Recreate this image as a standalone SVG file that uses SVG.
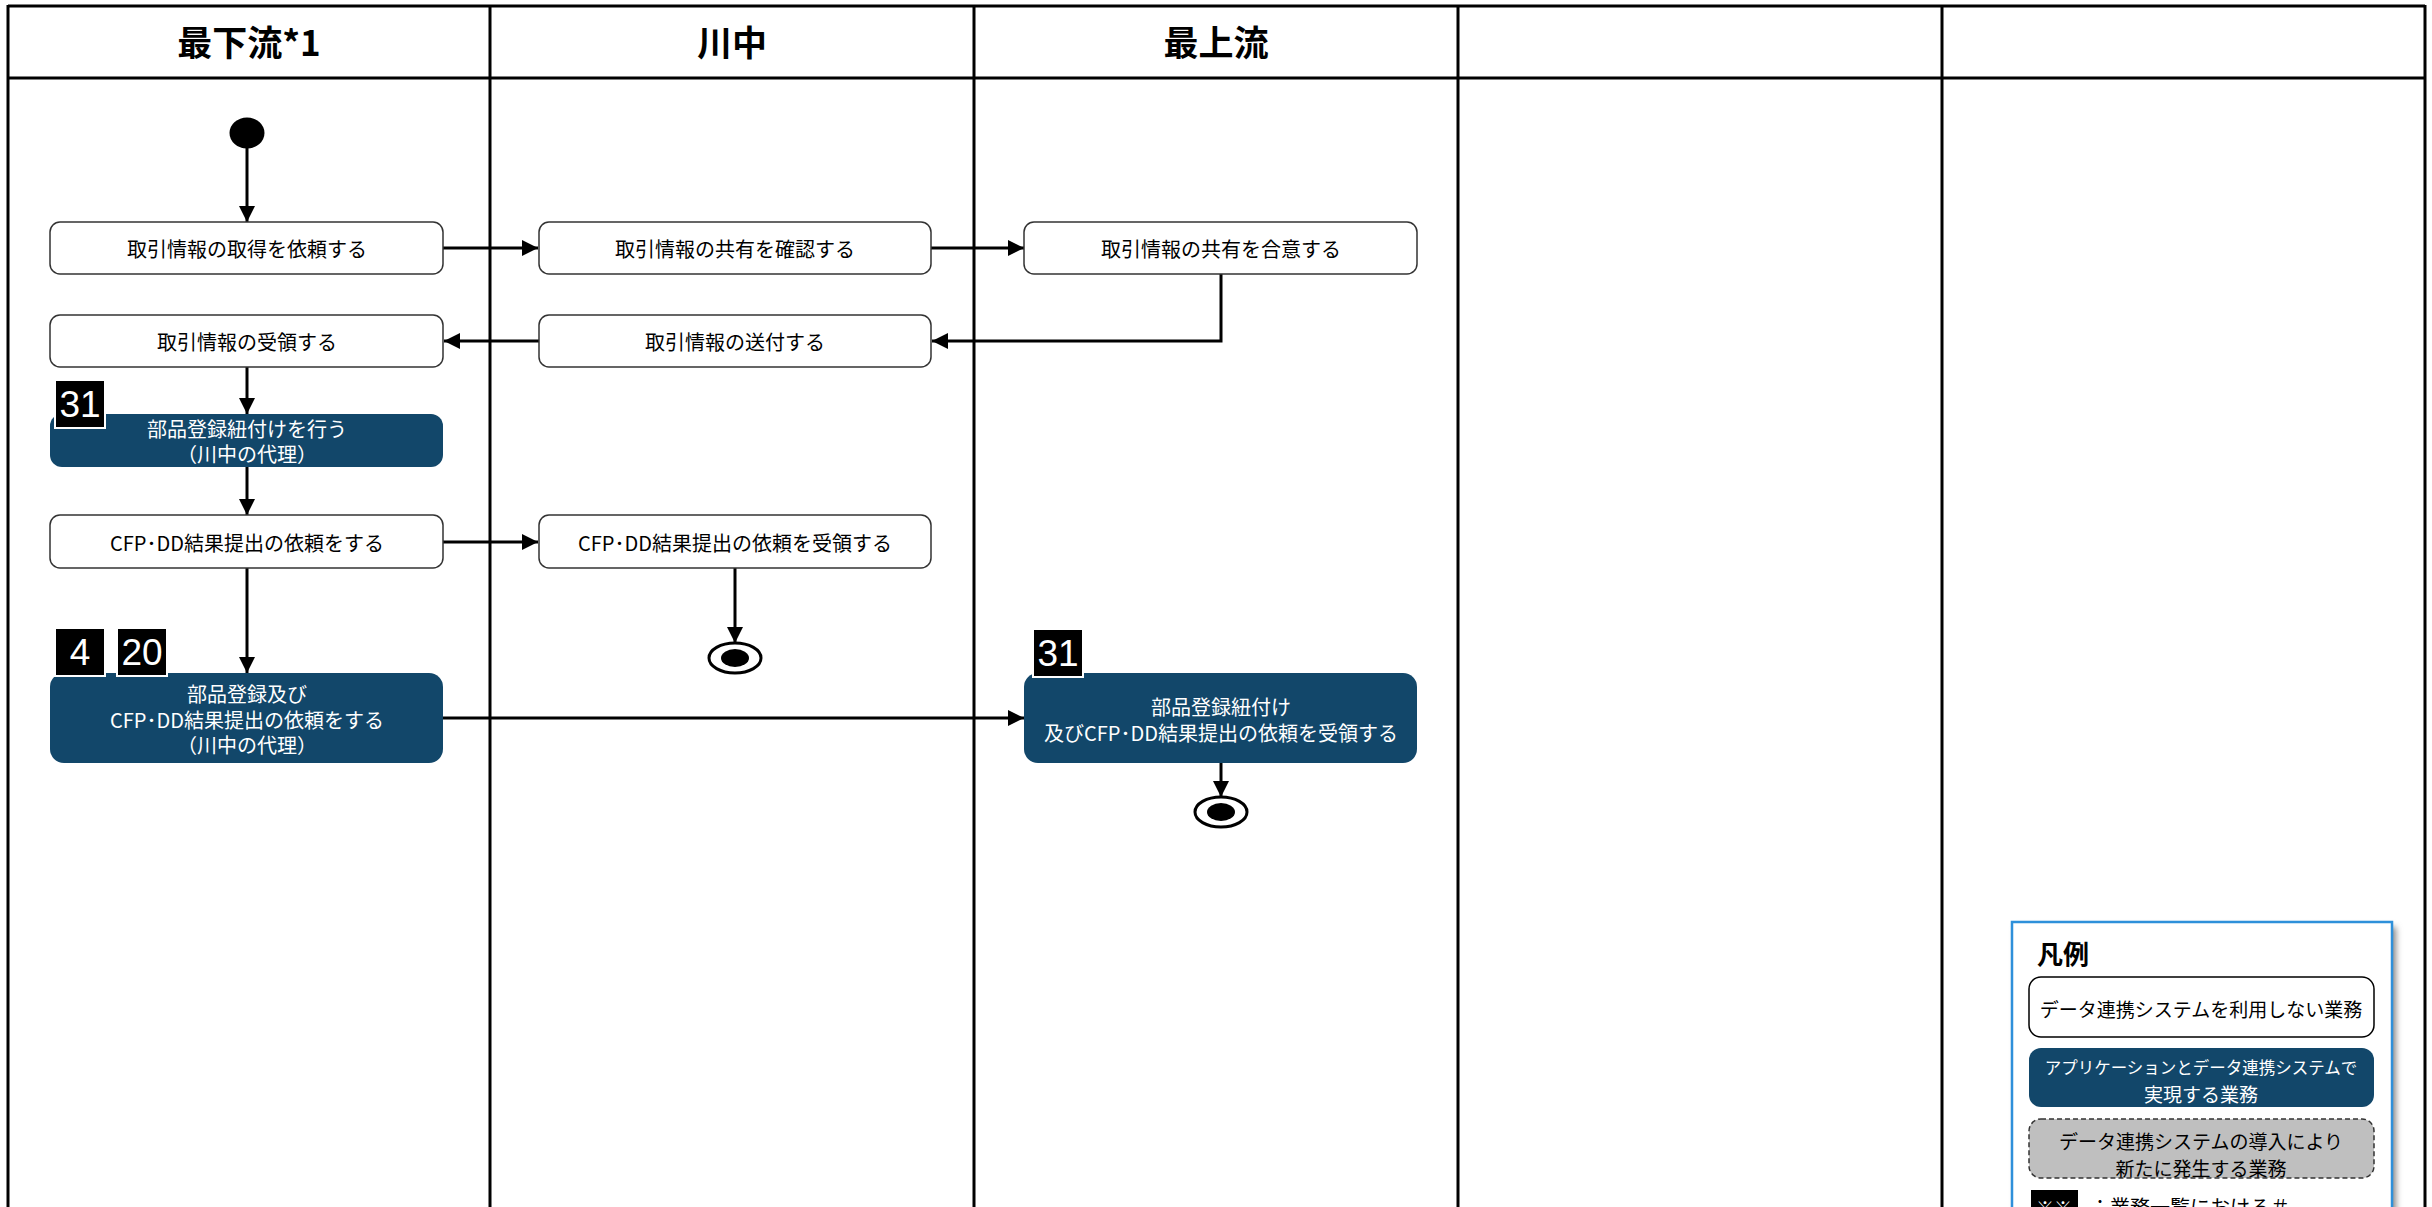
<svg xmlns="http://www.w3.org/2000/svg" width="2432" height="1207" viewBox="0 0 2432 1207">
<style>
.lane{stroke:#000;stroke-width:3;fill:none}
.hdr{font-family:'Noto Sans CJK JP','Noto Sans',sans-serif;font-size:35px;font-weight:700;fill:#000;text-anchor:middle;dominant-baseline:central}
.wbox{fill:#fff;stroke:#333;stroke-width:1.5}
.dbox{fill:#12476A;stroke:none}
.t{font-family:'Noto Sans CJK JP','Noto Sans',sans-serif;font-size:20px;fill:#000;text-anchor:middle;dominant-baseline:central}
.tw{font-family:'Noto Sans CJK JP','Noto Sans',sans-serif;font-size:20px;fill:#fff;text-anchor:middle;dominant-baseline:central}
.badge{fill:#000;stroke:#fff;stroke-width:2}
.bt{font-family:'Liberation Sans',Arial,sans-serif;font-size:37px;fill:#fff;text-anchor:middle}
.conn{stroke:#000;stroke-width:3;fill:none;marker-end:url(#arr)}
.lt{font-family:'Noto Sans CJK JP','Noto Sans',sans-serif;font-size:19px;text-anchor:middle;dominant-baseline:central}
</style>
<defs>
<marker id="arr" markerUnits="userSpaceOnUse" markerWidth="16" markerHeight="16" viewBox="0 0 16 16" refX="16" refY="8" orient="auto">
<path d="M0,0 L16,8 L0,16 Z" fill="#000"/>
</marker>
<filter id="sh" x="-10%" y="-10%" width="130%" height="130%">
<feGaussianBlur stdDeviation="3"/>
</filter>
</defs>
<rect x="0" y="0" width="2432" height="1207" fill="#fff"/>
<g id="lanes">
<line class="lane" x1="8" y1="6" x2="2425" y2="6"/>
<line class="lane" x1="8" y1="78" x2="2425" y2="78"/>
<line class="lane" x1="8" y1="5" x2="8" y2="1207"/>
<line class="lane" x1="490" y1="5" x2="490" y2="1207"/>
<line class="lane" x1="974" y1="5" x2="974" y2="1207"/>
<line class="lane" x1="1458" y1="5" x2="1458" y2="1207"/>
<line class="lane" x1="1942" y1="5" x2="1942" y2="1207"/>
<line class="lane" x1="2425" y1="5" x2="2425" y2="1207"/>
<text class="hdr" x="249" y="40">最下流*1</text>
<text class="hdr" x="732" y="40">川中</text>
<text class="hdr" x="1216" y="40">最上流</text>
</g>
<g id="connectors">
<line class="conn" x1="247" y1="148" x2="247" y2="222"/>
<line class="conn" x1="443" y1="248" x2="538" y2="248"/>
<line class="conn" x1="931" y1="248" x2="1024" y2="248"/>
<polyline class="conn" points="1221,274 1221,341 932,341"/>
<line class="conn" x1="539" y1="341" x2="444" y2="341"/>
<line class="conn" x1="247" y1="367" x2="247" y2="414"/>
<line class="conn" x1="247" y1="467" x2="247" y2="515"/>
<line class="conn" x1="443" y1="542" x2="538" y2="542"/>
<line class="conn" x1="735" y1="568" x2="735" y2="643"/>
<line class="conn" x1="247" y1="568" x2="247" y2="673"/>
<line class="conn" x1="443" y1="718" x2="1024" y2="718"/>
<line class="conn" x1="1221" y1="763" x2="1221" y2="797"/>
</g>
<g id="start">
<ellipse cx="247" cy="133" rx="17.5" ry="15.5" fill="#000"/>
</g>
<g id="n1">
<rect class="wbox" x="50" y="222" width="393" height="52" rx="10"/>
<text class="t" x="247" y="248">取引情報の取得を依頼する</text>
</g>
<g id="n2">
<rect class="wbox" x="539" y="222" width="392" height="52" rx="10"/>
<text class="t" x="735" y="248">取引情報の共有を確認する</text>
</g>
<g id="n3">
<rect class="wbox" x="1024" y="222" width="393" height="52" rx="10"/>
<text class="t" x="1221" y="248">取引情報の共有を合意する</text>
</g>
<g id="n4">
<rect class="wbox" x="50" y="315" width="393" height="52" rx="10"/>
<text class="t" x="247" y="341">取引情報の受領する</text>
</g>
<g id="n5">
<rect class="wbox" x="539" y="315" width="392" height="52" rx="10"/>
<text class="t" x="735" y="341">取引情報の送付する</text>
</g>
<g id="n6">
<rect class="dbox" x="50" y="414" width="393" height="53" rx="12"/>
<text class="tw" x="247" y="428">部品登録紐付けを行う</text>
<text class="tw" x="247" y="453">（川中の代理）</text>
<rect class="badge" x="55" y="380" width="50" height="48"/>
<text class="bt" x="80" y="417">31</text>
</g>
<g id="n7">
<rect class="wbox" x="50" y="515" width="393" height="53" rx="10"/>
<text class="t" x="247" y="542">CFP･DD結果提出の依頼をする</text>
</g>
<g id="n8">
<rect class="wbox" x="539" y="515" width="392" height="53" rx="10"/>
<text class="t" x="735" y="542">CFP･DD結果提出の依頼を受領する</text>
</g>
<g id="end1">
<ellipse cx="735" cy="658" rx="26" ry="15" fill="#fff" stroke="#000" stroke-width="3"/>
<ellipse cx="735" cy="658" rx="14" ry="9" fill="#000"/>
</g>
<g id="n9">
<rect class="dbox" x="50" y="673" width="393" height="90" rx="14"/>
<text class="tw" x="247" y="693">部品登録及び</text>
<text class="tw" x="247" y="719">CFP･DD結果提出の依頼をする</text>
<text class="tw" x="247" y="744">（川中の代理）</text>
<rect class="badge" x="55" y="628" width="50" height="48"/>
<text class="bt" x="80" y="665">4</text>
<rect class="badge" x="117" y="628" width="50" height="48"/>
<text class="bt" x="142" y="665">20</text>
</g>
<g id="n10">
<rect class="dbox" x="1024" y="673" width="393" height="90" rx="14"/>
<text class="tw" x="1221" y="706">部品登録紐付け</text>
<text class="tw" x="1221" y="732">及びCFP･DD結果提出の依頼を受領する</text>
<rect class="badge" x="1033" y="629" width="50" height="48"/>
<text class="bt" x="1058" y="666">31</text>
</g>
<g id="end2">
<ellipse cx="1221" cy="812" rx="26" ry="15" fill="#fff" stroke="#000" stroke-width="3"/>
<ellipse cx="1221" cy="812" rx="14" ry="9" fill="#000"/>
</g>
<g id="legend">
<rect x="2016" y="927" width="380" height="300" fill="#888" filter="url(#sh)"/>
<rect x="2012" y="922" width="380" height="300" fill="#fff" stroke="#2E90DA" stroke-width="2.5"/>
<text x="2037" y="952" font-family="'Noto Sans CJK JP','Noto Sans',sans-serif" font-size="26" font-weight="700" dominant-baseline="central">凡例</text>
<rect x="2029" y="977" width="345" height="60" rx="12" fill="#fff" stroke="#000" stroke-width="1.5"/>
<text class="lt" x="2201" y="1008" fill="#000">データ連携システムを利用しない業務</text>
<rect x="2029" y="1048" width="345" height="59" rx="12" fill="#12476A"/>
<text class="lt" x="2201" y="1067" fill="#fff" style="font-size:16.5px">アプリケーションとデータ連携システムで</text>
<text class="lt" x="2201" y="1093" fill="#fff">実現する業務</text>
<rect x="2029" y="1119" width="345" height="59" rx="12" fill="#BFBFBF" stroke="#333" stroke-width="1.5" stroke-dasharray="5,3"/>
<text class="lt" x="2201" y="1140" fill="#000">データ連携システムの導入により</text>
<text class="lt" x="2201" y="1167" fill="#000">新たに発生する業務</text>
<rect x="2031" y="1190" width="47" height="40" fill="#000"/>
<text x="2054" y="1215" font-family="'Noto Sans CJK JP','Noto Sans',sans-serif" font-size="18" fill="#fff" text-anchor="middle">※※</text>
<text x="2090" y="1215" font-family="'Noto Sans CJK JP','Noto Sans',sans-serif" font-size="20" fill="#000">：業務一覧における＃</text>
</g>
</svg>
